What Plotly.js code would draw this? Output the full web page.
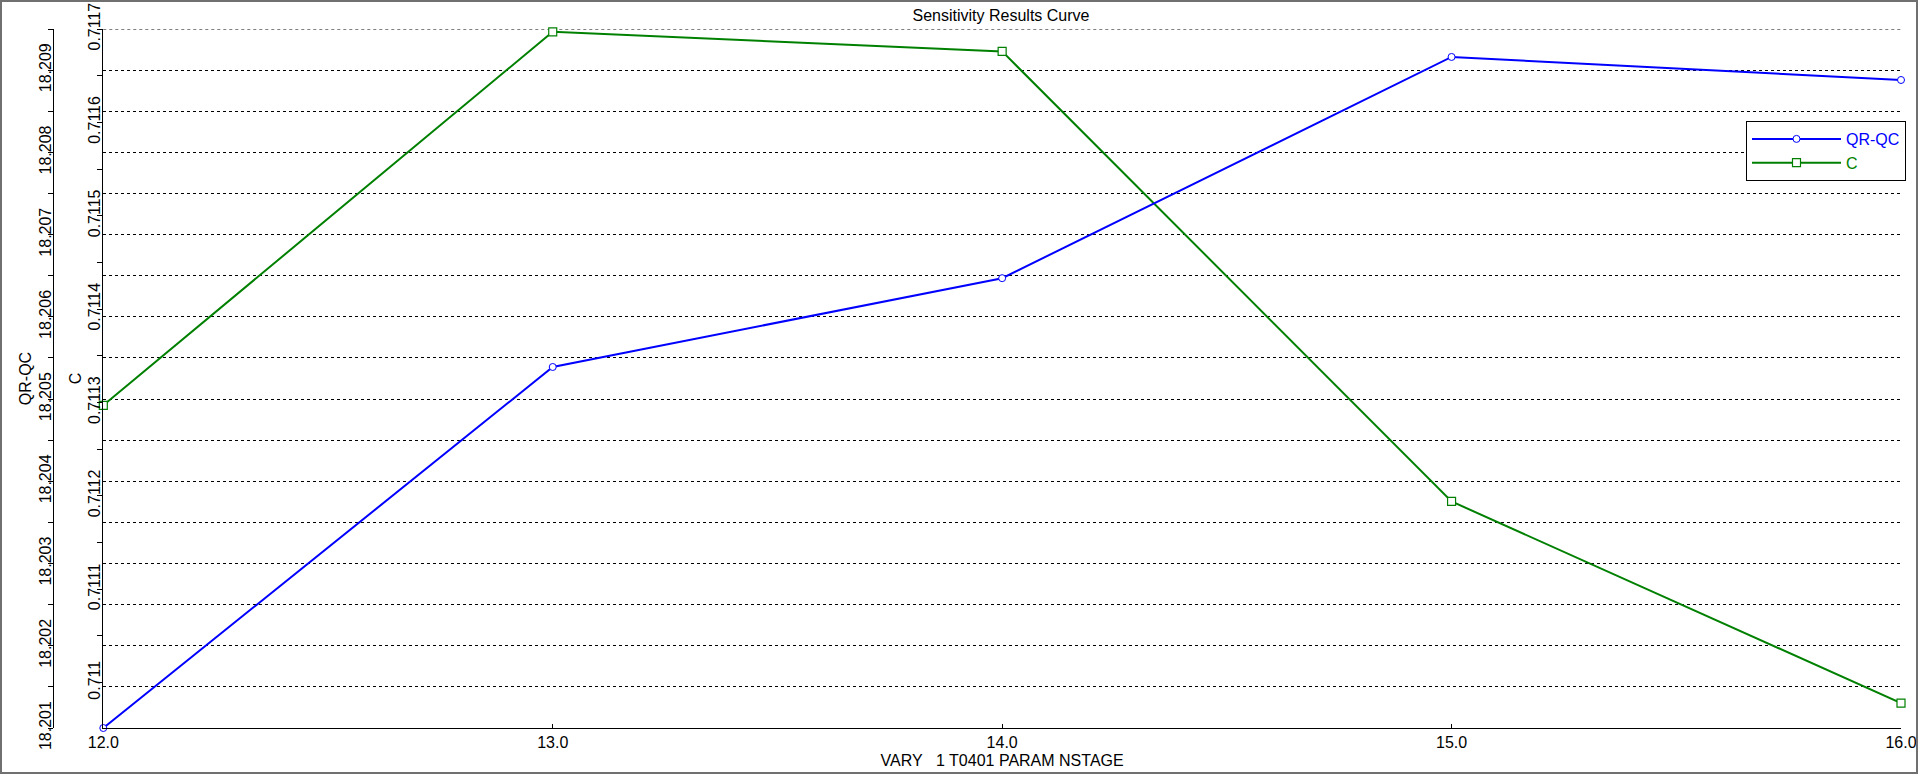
<!DOCTYPE html>
<html><head><meta charset="utf-8">
<script src="https://cdn.plot.ly/plotly-3.0.1.min.js"></script>
<style>
html,body{margin:0;padding:0;background:#fff;}
#wrap{position:relative;width:1918px;height:774px;overflow:hidden;}
#chart{width:1918px;height:774px;}
#frame{position:absolute;left:0;top:0;width:1918px;height:774px;box-sizing:border-box;border:2px solid #707070;pointer-events:none;}
</style></head><body>
<div id="wrap"><div id="chart"></div><div id="frame"></div></div>
<script>
const xValues = [12, 13, 14, 15, 16];
const qrqcValues = [18.20100, 18.20539, 18.20647, 18.20916, 18.20888];
const cValues = [0.711297, 0.711697, 0.711676, 0.711194, 0.710978];

const xTickVals = [12, 13, 14, 15, 16];
const xTickText = ['12.0', '13.0', '14.0', '15.0', '16.0'];
const qrqcTickVals = [18.201, 18.202, 18.203, 18.204, 18.205, 18.206, 18.207, 18.208, 18.209];
const qrqcTickText = ['18.201', '18.202', '18.203', '18.204', '18.205', '18.206', '18.207', '18.208', '18.209'];
const qrqcMinorVals = [18.2015, 18.2025, 18.2035, 18.2045, 18.2055, 18.2065, 18.2075, 18.2085, 18.2095];
const qrqcTop = 18.2095;
const cTickVals = [0.711, 0.7111, 0.7112, 0.7113, 0.7114, 0.7115, 0.7116, 0.7117];
const cTickText = ['0.711', '0.7111', '0.7112', '0.7113', '0.7114', '0.7115', '0.7116', '0.7117'];
const cMinorVals = [0.71105, 0.71115, 0.71125, 0.71135, 0.71145, 0.71155, 0.71165];

const W = 1918, H = 774;
const ML = 0, MR = 17, MT = 29, MB = 46;
const PW = W - ML - MR, PH = H - MT - MB;
const FONT = 'Liberation Sans, Arial, Helvetica, sans-serif';
const XDOM0 = 103.3 / PW;

const traces = [
  {
    x: xValues, y: qrqcValues, yaxis: 'y2', type: 'scatter', mode: 'lines+markers',
    name: '<span style="color:#0000ff">QR-QC</span>',
    line: {color: '#0000ff', width: 2},
    marker: {symbol: 'circle', size: 7, color: '#ffffff', line: {color: '#0000ff', width: 1}},
    cliponaxis: false
  },
  {
    x: xValues, y: cValues, yaxis: 'y', type: 'scatter', mode: 'lines+markers',
    name: '<span style="color:#008000">C</span>',
    line: {color: '#008000', width: 2},
    marker: {symbol: 'square', size: 8, color: '#ffffff', line: {color: '#008000', width: 1.2}},
    cliponaxis: false
  }
];

const layout = {
  width: W, height: H,
  margin: {l: ML, r: MR, t: MT, b: MB, pad: 0},
  paper_bgcolor: '#ffffff', plot_bgcolor: '#ffffff',
  font: {family: FONT, size: 16, color: '#000000'},
  title: {
    text: 'Sensitivity Results Curve',
    font: {family: FONT, size: 16, color: '#000000'},
    xref: 'container', yref: 'container',
    x: 1001 / W, xanchor: 'center',
    y: 1 - 15 / H, yanchor: 'middle'
  },
  showlegend: true,
  legend: {
    x: 1906 / PW, xanchor: 'right',
    y: (H - MB - 121) / PH, yanchor: 'top',
    bgcolor: '#ffffff', bordercolor: '#000000', borderwidth: 1,
    font: {family: FONT, size: 16, color: '#000000'},
    itemwidth: 89, tracegroupgap: 0
  },
  shapes: [
    {type: 'line', layer: 'below', xref: 'paper', yref: 'y2', x0: XDOM0, x1: 1, y0: qrqcTop, y1: qrqcTop,
     line: {color: '#000', width: 1, dash: '3px,3px'}}
  ],
  xaxis: {
    domain: [XDOM0, 1],
    range: [12, 16],
    tickmode: 'array', tickvals: xTickVals, ticktext: xTickText,
    ticks: 'inside', ticklen: 4, tickcolor: '#000', tickwidth: 1,
    showline: true, linecolor: '#000', linewidth: 1,
    showgrid: false, zeroline: false, automargin: false,
    tickfont: {family: FONT, size: 16, color: '#000'},
    title: {text: 'VARY\u00a0\u00a0\u00a01 T0401 PARAM NSTAGE', font: {family: FONT, size: 16, color: '#000'}, standoff: 4}
  },
  yaxis: {
    anchor: 'x', side: 'left',
    range: [0.7109514, 0.7117],
    tickmode: 'array', tickvals: cTickVals, ticktext: cTickText,
    ticks: 'outside', ticklen: 5, tickcolor: '#000', tickwidth: 1,
    tickangle: -90, ticklabelstandoff: -9,
    minor: {tickmode: 'array', tickvals: cMinorVals, ticks: 'outside', ticklen: 5, tickcolor: '#000', showgrid: false},
    showline: true, linecolor: '#000', linewidth: 1,
    showgrid: false, zeroline: false, automargin: false,
    tickfont: {family: FONT, size: 16, color: '#000'},
    title: {text: 'C', font: {family: FONT, size: 16, color: '#000'}, standoff: 0}
  },
  yaxis2: {
    overlaying: 'y', anchor: 'free', position: 53.3 / PW, side: 'left',
    range: [18.201, qrqcTop],
    tickmode: 'array', tickvals: qrqcTickVals, ticktext: qrqcTickText,
    ticks: 'outside', ticklen: 5, tickcolor: '#000', tickwidth: 1,
    tickangle: -90, ticklabelstandoff: -9,
    minor: {tickmode: 'array', tickvals: qrqcMinorVals, ticks: 'outside', ticklen: 5, tickcolor: '#000',
            showgrid: true, gridcolor: '#000', gridwidth: 1, griddash: '3px,3px'},
    showline: true, linecolor: '#000', linewidth: 1,
    showgrid: true, gridcolor: '#000', gridwidth: 1, griddash: '3px,3px',
    zeroline: false, automargin: false,
    tickfont: {family: FONT, size: 16, color: '#000'},
    title: {text: 'QR-QC', font: {family: FONT, size: 16, color: '#000'}, standoff: 0}
  }
};

Plotly.newPlot('chart', traces, layout, {displayModeBar: false, staticPlot: true});
</script>
</body></html>
